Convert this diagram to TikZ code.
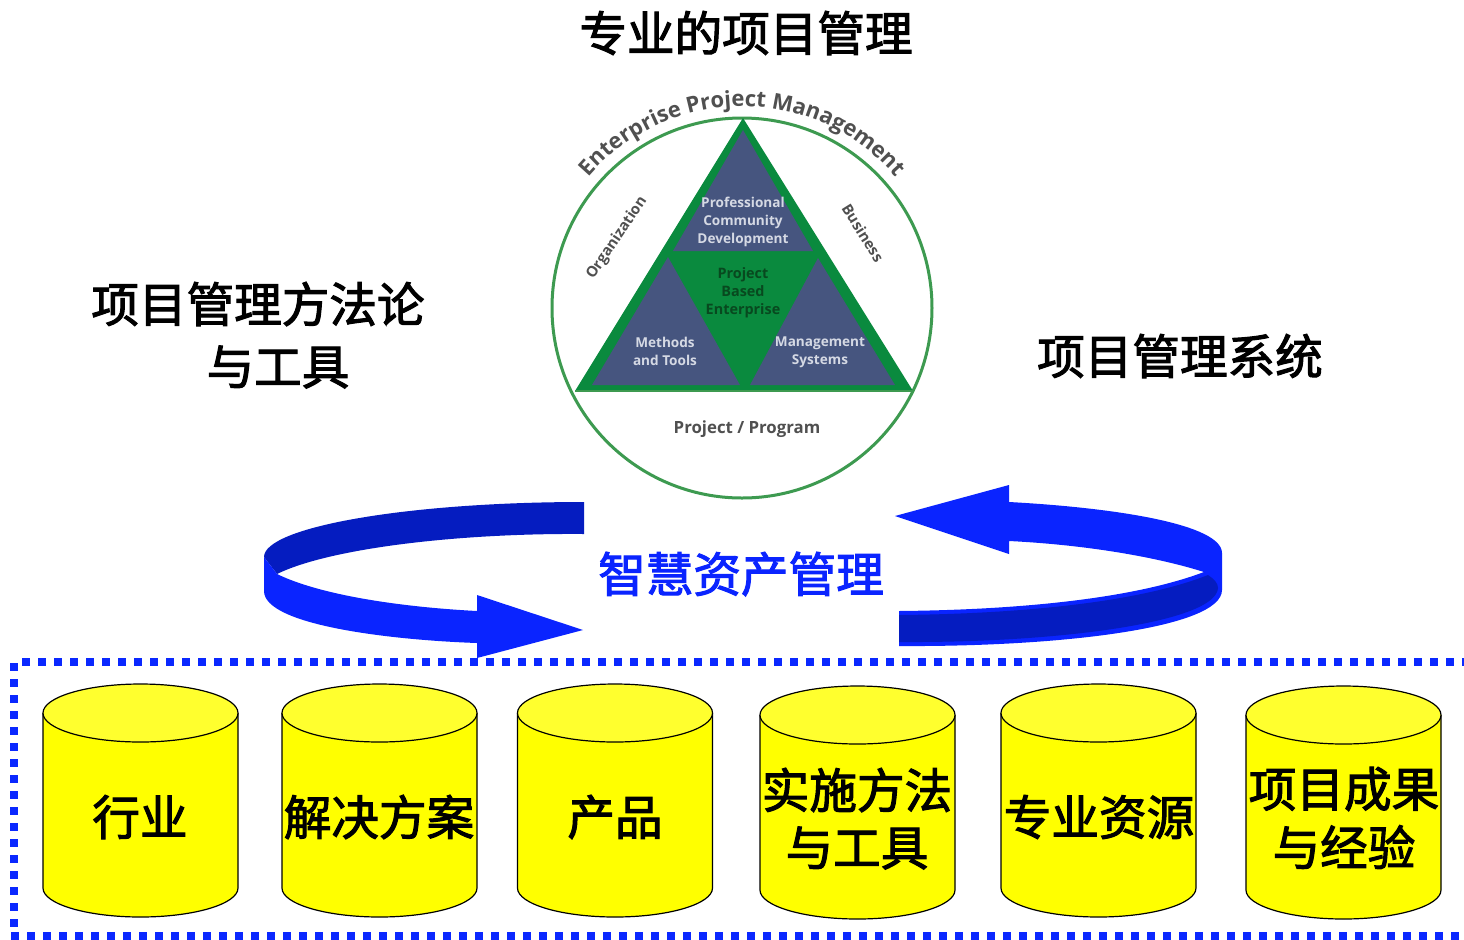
\documentclass[tikz,border=0pt]{standalone}
\usepackage{fontspec}
\usetikzlibrary{decorations.text}
\newfontfamily\cjkfont[FakeBold=2.2]{Noto Sans CJK SC}
\newfontfamily\embold{Open Sans Bold}
\definecolor{arrowblue}{HTML}{0A24FF}
\definecolor{arrowdark}{HTML}{051CC0}
\definecolor{dotblue}{HTML}{0A28FF}
\definecolor{cyltop}{HTML}{FFFF2E}
\definecolor{cylbody}{HTML}{FFFF00}
\definecolor{emgreen}{HTML}{0A8A3E}
\definecolor{ringgreen}{HTML}{3D9A50}
\definecolor{emblue}{HTML}{46557F}
\definecolor{emlabel}{HTML}{D5D9E4}
\definecolor{emdark}{HTML}{08491F}
\definecolor{emgray}{HTML}{505050}
\tikzset{
  bigtext/.style={font=\cjkfont\fontsize{23.8}{28}\selectfont,text=black,inner sep=0pt,align=center},
  bluetext/.style={bigtext,text=arrowblue},
  dotline/.style={draw=dotblue,line width=4pt,dash pattern=on 4pt off 4pt},
  cylline/.style={draw=black,line width=0.6pt},
  triwhite/.style={font=\embold\fontsize{6.8}{9}\selectfont,text=emlabel,inner sep=0pt,align=center},
  tridark/.style={font=\embold\fontsize{7.2}{9}\selectfont,text=emdark,inner sep=0pt,align=center},
  outergray/.style={font=\embold\fontsize{7.4}{9}\selectfont,text=emgray,inner sep=0pt,align=center},
  programgray/.style={font=\embold\fontsize{8.4}{10}\selectfont,text=emgray,inner sep=0pt,align=center},
}
\newcommand{\cylinder}[2]{%
  \fill[cylbody] (#1,#2+29) -- (#1,#2+204) .. controls (#1,#2+220) and (#1+44,#2+233) .. (#1+97.5,#2+233) .. controls (#1+151,#2+233) and (#1+195,#2+220) .. (#1+195,#2+204) -- (#1+195,#2+29) -- cycle;
  \draw[cylline] (#1,#2+29) -- (#1,#2+204) .. controls (#1,#2+220) and (#1+44,#2+233) .. (#1+97.5,#2+233) .. controls (#1+151,#2+233) and (#1+195,#2+220) .. (#1+195,#2+204) -- (#1+195,#2+29);
  \draw[cylline,fill=cyltop] (#1,#2+29) .. controls (#1,#2+13) and (#1+44,#2) .. (#1+97.5,#2) .. controls (#1+151,#2) and (#1+195,#2+13) .. (#1+195,#2+29) .. controls (#1+195,#2+45) and (#1+151,#2+58) .. (#1+97.5,#2+58) .. controls (#1+44,#2+58) and (#1,#2+45) .. (#1,#2+29) -- cycle;
}
\begin{document}
\begin{tikzpicture}[x=0.5pt,y=-0.5pt]
\useasboundingbox[fill=white] (0,0) rectangle (1464,939);
% emblem
\draw[ringgreen,line width=1.5pt] (742,308) circle[radius=95pt];
\fill[emgreen] (743,118) -- (913,391) -- (575,391) -- cycle;
\fill[emblue] (743,130) -- (813,251) -- (673,251) -- cycle;
\fill[emblue] (668,257) -- (740,385) -- (592,385) -- cycle;
\fill[emblue] (818,258) -- (895,385) -- (750,385) -- cycle;
\draw[ringgreen,line width=1pt] (575,391) -- (913,391);
\path[decorate,decoration={text along path,text align=center,text={|\embold\fontsize{11}{13}\selectfont\color{emgray}|Enterprise Project Management}}]
  (585.4,181.2) arc[start angle=141,end angle=39,radius=101pt];
\node[outergray,rotate=56] (org) at (617,238) {Organization};
\node[outergray,rotate=-58] (bus) at (863,233) {Business};
\node[programgray] (pp) at (747,429) {Project / Program};
\node[triwhite] (pcd) at (743,222) {Professional\\Community\\Development};
\node[tridark] (pbe) at (743,293) {Project\\Based\\Enterprise};
\node[triwhite] (mt) at (665,351) {Methods\\and Tools};
\node[triwhite] (ms) at (820,352) {Management\\Systems};
% left arrow
\fill[arrowdark] (584,502) .. controls (408,502) and (264,527) .. (264,557) -- (277,574) .. controls (330,548) and (460,533) .. (584,534) -- cycle;
\fill[arrowblue] (264,557) -- (277,574) .. controls (320,595) and (400,607) .. (477,611) -- (477,595) -- (583,630) -- (477,658) -- (477,643) .. controls (390,640) and (264,625) .. (264,591) -- cycle;
% right arrow
\fill[arrowblue] (895,516) -- (1009,485) -- (1009,502) .. controls (1120,508) and (1222,525) .. (1222,553) -- (1222,590) .. controls (1222,628) and (1060,647) .. (899,646) -- (899,611) .. controls (1010,610) and (1130,600) .. (1204,572) .. controls (1160,558) and (1090,545) .. (1009,541) -- (1009,554) -- cycle;
\fill[arrowdark] (899,615) .. controls (1010,614) and (1135,604) .. (1208,575) .. controls (1214,579) and (1218,583) .. (1218,588) .. controls (1216,622) and (1060,643) .. (899,642) -- cycle;
% dotted frame
\draw[dotline] (22,662) -- (1464,662);
\draw[dotline] (14,663) -- (14,930);
\draw[dotline] (11,936) -- (1464,936);
% cylinders
\cylinder{43}{684}
\cylinder{282}{684}
\cylinder{517.5}{684}
\cylinder{760}{686}
\cylinder{1001}{684}
\cylinder{1246}{686}
% texts
\node[bigtext] (title) at (746,33) {专业的项目管理};
\node[bigtext] (ml1) at (258,304) {项目管理方法论};
\node[bigtext] (ml2) at (278,367) {与工具};
\node[bigtext] (sys) at (1180,356) {项目管理系统};
\node[bluetext] (asset) at (741,574) {智慧资产管理};
\node[bigtext] (c1) at (140,817) {行业};
\node[bigtext] (c2) at (379,817) {解决方案};
\node[bigtext] (c3) at (615,817) {产品};
\node[bigtext] (c4a) at (857,790) {实施方法};
\node[bigtext] (c4b) at (857,848) {与工具};
\node[bigtext] (c5) at (1099,817) {专业资源};
\node[bigtext] (c6a) at (1344,789) {项目成果};
\node[bigtext] (c6b) at (1344,847) {与经验};
\end{tikzpicture}
\end{document}
